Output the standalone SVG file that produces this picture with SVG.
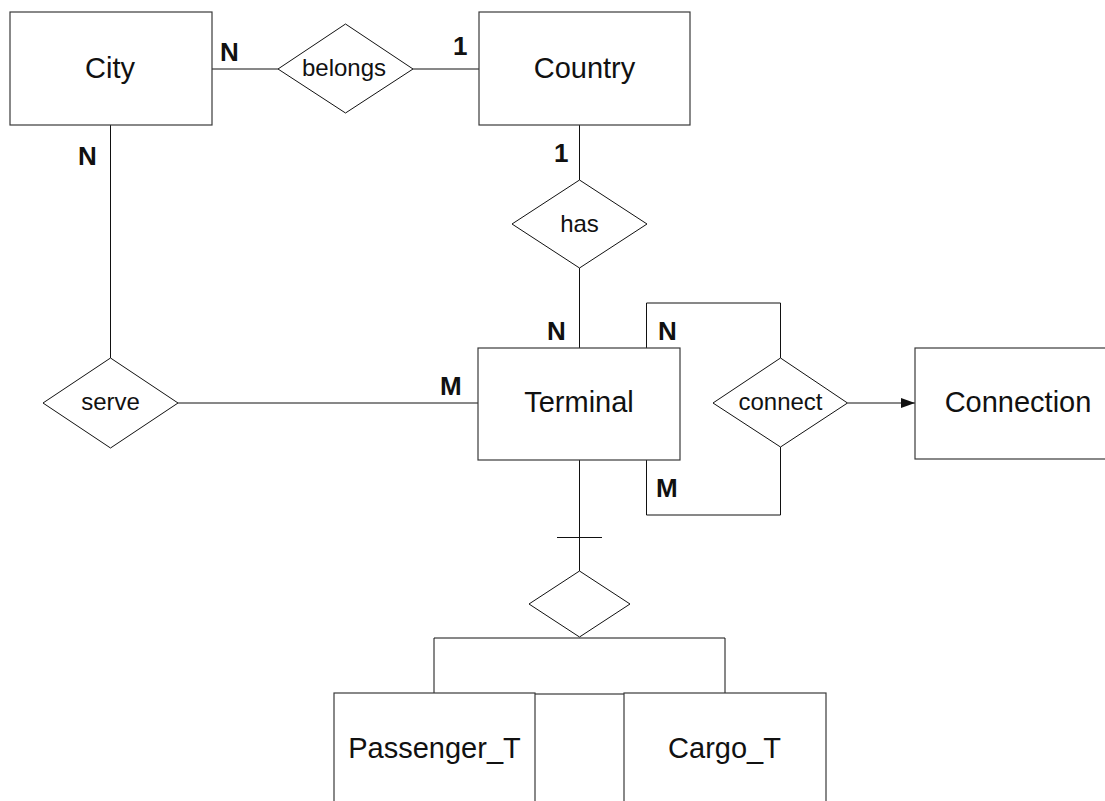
<svg xmlns="http://www.w3.org/2000/svg" width="1105" height="801" viewBox="0 0 1105 801">
  <style>
    .entity { fill: #ffffff; stroke: #3a3a3a; stroke-width: 1.2; }
    .rel { fill: #ffffff; stroke: #111111; stroke-width: 1; }
    .link { fill: none; stroke: #111111; stroke-width: 1; }
    .etext { font-family: "Liberation Sans", Arial, sans-serif; font-size: 29px; fill: #111111; text-anchor: middle; }
    .rtext { font-family: "Liberation Sans", Arial, sans-serif; font-size: 24px; fill: #111111; text-anchor: middle; }
    .card { font-family: "Liberation Sans", Arial, sans-serif; font-size: 26px; font-weight: bold; fill: #111111; }
  </style>
  <defs>
    <marker id="arrow" markerWidth="14" markerHeight="10" refX="14" refY="5" orient="auto" markerUnits="userSpaceOnUse">
      <path d="M0,0 L14,5 L0,10 Z" fill="#111111"/>
    </marker>
  </defs>
  <rect width="1105" height="801" fill="#ffffff"/>

  <!-- connectors -->
  <g id="connectors">
    <line class="link" x1="212" y1="69" x2="278" y2="69"/>
    <line class="link" x1="413" y1="69" x2="479" y2="69"/>
    <line class="link" x1="110.5" y1="125" x2="110.5" y2="358"/>
    <line class="link" x1="178" y1="403" x2="478" y2="403"/>
    <line class="link" x1="579.5" y1="125" x2="579.5" y2="180"/>
    <line class="link" x1="579.5" y1="268" x2="579.5" y2="348"/>
    <path class="link" d="M646.5,348 V303 H780.5 V358"/>
    <path class="link" d="M646.5,460 V515 H780.5 V447"/>
    <line class="link" x1="847.5" y1="403" x2="915" y2="403" marker-end="url(#arrow)"/>
    <line class="link" x1="579.5" y1="460" x2="579.5" y2="571"/>
    <line class="link" x1="557" y1="537.5" x2="602" y2="537.5"/>
    <path class="link" d="M434,693 V638 H725 V693"/>
    <line class="link" x1="535" y1="694" x2="624" y2="694"/>
  </g>

  <!-- entities -->
  <g id="city">
    <rect class="entity" x="10" y="12" width="202" height="113"/>
    <text class="etext" x="110" y="78">City</text>
  </g>
  <g id="country">
    <rect class="entity" x="479" y="12" width="211" height="113"/>
    <text class="etext" x="584.5" y="78">Country</text>
  </g>
  <g id="terminal">
    <rect class="entity" x="478" y="348" width="202" height="112"/>
    <text class="etext" x="579" y="412">Terminal</text>
  </g>
  <g id="connection">
    <rect class="entity" x="915" y="348" width="200" height="111"/>
    <text class="etext" x="1018" y="412">Connection</text>
  </g>
  <g id="passenger_t">
    <rect class="entity" x="334" y="693" width="201" height="140"/>
    <text class="etext" x="434.5" y="758">Passenger_T</text>
  </g>
  <g id="cargo_t">
    <rect class="entity" x="624" y="693" width="202" height="140"/>
    <text class="etext" x="724.5" y="758">Cargo_T</text>
  </g>

  <!-- relationships -->
  <g id="belongs">
    <polygon class="rel" points="345.5,24 413,69 345.5,113 278,69"/>
    <text class="rtext" x="344" y="76">belongs</text>
  </g>
  <g id="has">
    <polygon class="rel" points="579.5,180 647,224 579.5,268 512,224"/>
    <text class="rtext" x="579.5" y="232">has</text>
  </g>
  <g id="serve">
    <polygon class="rel" points="110.5,358 178,403 110.5,448 43,403"/>
    <text class="rtext" x="110.5" y="410">serve</text>
  </g>
  <g id="connect">
    <polygon class="rel" points="780.5,358 847.5,403 780.5,447 713,403"/>
    <text class="rtext" x="780.5" y="410">connect</text>
  </g>
  <g id="isa">
    <polygon class="rel" points="579.5,571 630,604 579.5,637 529,604"/>
  </g>

  <!-- cardinalities -->
  <g id="cardinalities">
    <text class="card" x="220" y="61">N</text>
    <text class="card" x="453" y="55">1</text>
    <text class="card" x="78" y="165">N</text>
    <text class="card" x="554" y="162">1</text>
    <text class="card" x="547" y="340">N</text>
    <text class="card" x="440" y="395">M</text>
    <text class="card" x="658" y="340">N</text>
    <text class="card" x="656" y="497">M</text>
  </g>
</svg>
